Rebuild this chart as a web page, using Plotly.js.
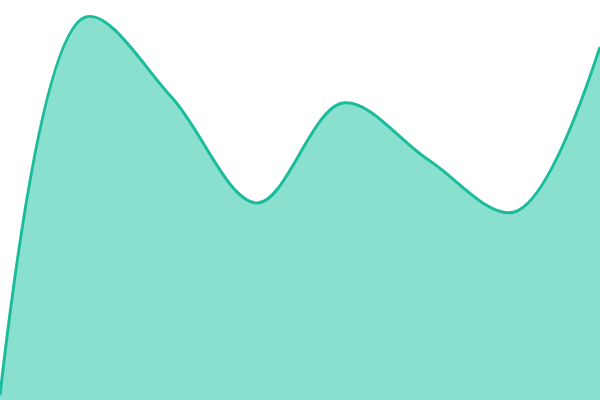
<!DOCTYPE html>
<html>
<head>
<meta charset="utf-8">
<script src="https://cdn.plot.ly/plotly-3.0.1.min.js"></script>
<style>
  html, body { margin: 0; padding: 0; background: #fff; }
  #chart { width: 600px; height: 400px; }
</style>
</head>
<body>
<div id="chart"></div>
<script>
const xs = [0, 1, 2, 3, 4, 5, 6, 7];
const values = [5, 383, 303, 197, 297, 240, 188, 353];

Plotly.newPlot('chart', [{
    x: xs,
    y: values,
    type: 'scatter',
    mode: 'lines',
    fill: 'tozeroy',
    fillcolor: '#89e0cf',
    line: { color: '#1abc9c', width: 3, shape: 'spline', smoothing: 1 },
    hoverinfo: 'none'
}], {
    width: 600,
    height: 400,
    margin: { l: 0, r: 0, t: 0, b: 0 },
    showlegend: false,
    paper_bgcolor: '#fff',
    plot_bgcolor: '#fff',
    xaxis: { range: [0, 7], visible: false, fixedrange: true },
    yaxis: { range: [0, 400], visible: false, fixedrange: true }
}, { displayModeBar: false, staticPlot: true });
</script>
</body>
</html>
